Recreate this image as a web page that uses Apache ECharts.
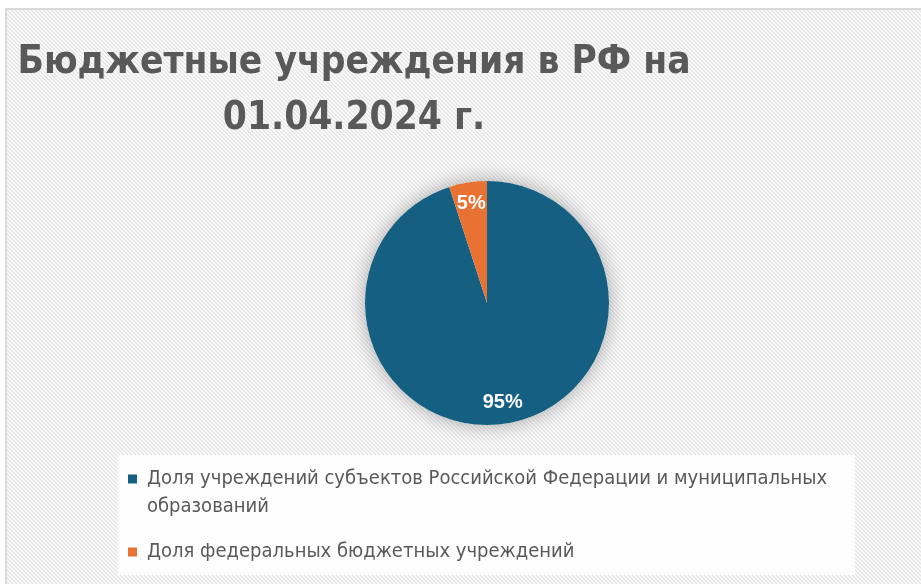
<!DOCTYPE html>
<html><head><meta charset="utf-8">
<script src="https://cdn.jsdelivr.net/npm/echarts@6/dist/echarts.min.js"></script>
<style>
html,body{margin:0;padding:0;background:#fff;width:921px;height:584px;overflow:hidden}
#frame{position:absolute;left:5px;top:8px;border-left:2px solid #d9d9d9;border-top:2px solid #d9d9d9}
#chart{width:914px;height:574px}
</style></head><body>
<div id="frame"><div id="chart"></div></div>
<script>
const titleText = 'Бюджетные учреждения в РФ на\n01.04.2024 г.';
const categories = [
  'Доля учреждений субъектов Российской Федерации и муниципальных образований',
  'Доля федеральных бюджетных учреждений'
];
const values = [95, 5];
const colors = ['#156082', '#E97132'];

const narrow = "'DejaVu Sans Condensed', 'Liberation Sans Narrow', sans-serif";
const legendFontSize = 20;
const legendMaxWidth = 715;

// diagonal hatch tile
const tile = document.createElement('canvas');
tile.width = 4; tile.height = 4;
const tctx = tile.getContext('2d');
const shades = ['#e4e4e4', '#f1f1f1', '#ffffff', '#f1f1f1'];
for (let x = 0; x < 4; x++) for (let y = 0; y < 4; y++) {
  tctx.fillStyle = shades[((x - y) % 4 + 4) % 4];
  tctx.fillRect(x, y, 1, 1);
}

// word wrap for legend labels
const mctx = document.createElement('canvas').getContext('2d');
mctx.font = legendFontSize + 'px ' + narrow;
function wrap(text) {
  const words = text.split(' ');
  const lines = [];
  let cur = '';
  words.forEach(w => {
    const test = cur ? cur + ' ' + w : w;
    if (cur && mctx.measureText(test).width > legendMaxWidth) { lines.push(cur); cur = w; }
    else cur = test;
  });
  if (cur) lines.push(cur);
  return lines.join('\n');
}

const cx = 480, cy = 293, R = 122;
const seriesData = categories.map((c, i) => ({ name: c, value: values[i], itemStyle: { color: colors[i] } }));
const total = values.reduce((a, b) => a + b, 0);

const chart = echarts.init(document.getElementById('chart'));
chart.setOption({
  backgroundColor: { image: tile, repeat: 'repeat' },
  animation: false,
  title: {
    text: titleText,
    left: 347, top: 25, textAlign: 'center', padding: 0,
    textStyle: { fontFamily: narrow, fontWeight: 'bold', fontSize: 38.5, lineHeight: 56, color: '#595959' }
  },
  graphic: [{
    type: 'rect', left: 111, top: 445, shape: { width: 737, height: 120 },
    style: { fill: 'rgba(255,255,255,0.92)' }, z: 0, silent: true
  }],
  legend: {
    orient: 'vertical', left: 121, top: 455, padding: 0,
    itemWidth: 14, itemHeight: 37, itemGap: 12.5,
    formatter: wrap,
    textStyle: { fontFamily: narrow, fontSize: legendFontSize, color: '#595959', lineHeight: 28 },
    data: [
      { name: categories[0], icon: 'path://M0,0L9,0L9,9L0,9Z M14,37L14,37' },
      { name: categories[1], icon: 'path://M0,14L9,14L9,23L0,23Z M0,0L0,0 M14,37L14,37' }
    ]
  },
  series: [
    {
      type: 'pie', center: [cx, cy], radius: R, silent: true, z: 1,
      data: [{ name: '', value: total }],
      label: { show: false }, labelLine: { show: false },
      itemStyle: { color: '#ffffff', shadowBlur: 20, shadowColor: 'rgba(0,0,0,0.32)' }
    },
    {
      type: 'pie', center: [cx, cy], radius: R, startAngle: 90, clockwise: true, z: 2,
      data: seriesData, label: { show: false }, labelLine: { show: false },
      itemStyle: { borderWidth: 0 }
    },
    {
      type: 'pie', center: [cx, cy], radius: [R * 0.6, R], startAngle: 90, clockwise: true, z: 3,
      silent: true,
      data: categories.map((c, i) => ({ name: c, value: values[i], itemStyle: { color: 'rgba(0,0,0,0)' } })),
      label: { show: true, position: 'inside', formatter: '{d}%', color: '#ffffff', fontWeight: 'bold', fontSize: 20, fontFamily: "'Liberation Sans', Arial, sans-serif" },
      labelLine: { show: false }
    }
  ]
});
</script>
</body></html>
